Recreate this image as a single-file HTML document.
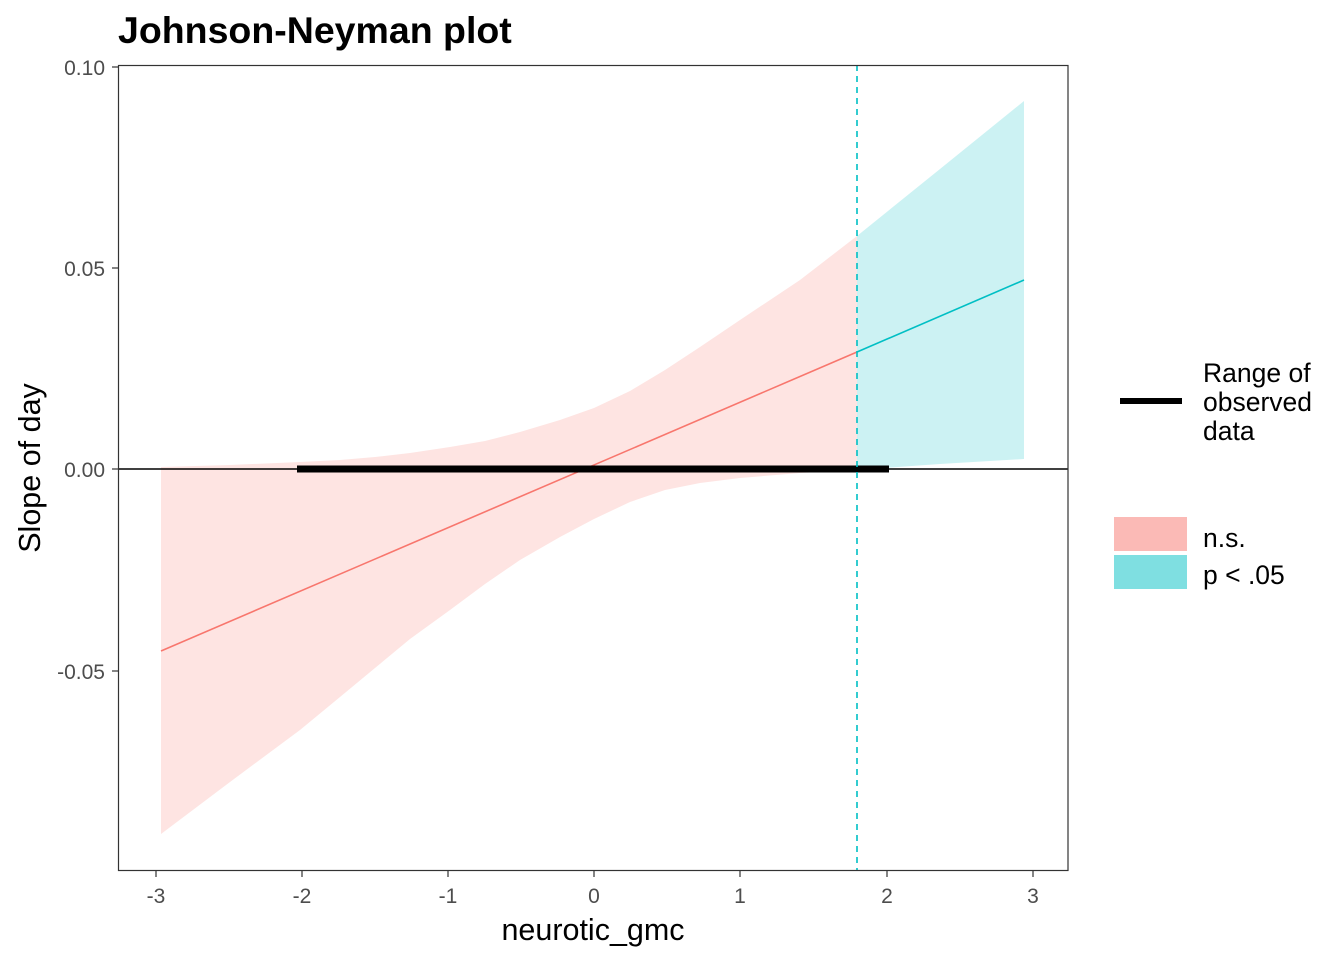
<!DOCTYPE html>
<html><head><style>body{margin:0;background:#fff}svg{display:block}</style></head><body>
<svg width="1344" height="960" xmlns="http://www.w3.org/2000/svg" font-family="Liberation Sans, sans-serif">
<rect width="1344" height="960" fill="#fff"/>
<text x="118" y="43" font-size="37.5" font-weight="bold">Johnson-Neyman plot</text>
<path d="M161,467 L230,465 L300,462 L340,460 L375,457 L410,453 L450,447 L485,441 L520,432 L560,420 L594,408 L630,391 L665,370 L700,347 L740,320 L800,280 L857,236 L857,470 L800,473 L740,478 L700,483 L665,490 L630,502 L594,519 L560,537 L520,560 L485,584 L450,610 L410,639 L375,668 L340,697 L300,730 L230,782 L161,834 Z" fill="#F8766D" fill-opacity="0.2"/>
<path d="M857,236 L940,169 L1024,101 L1024,459 L940,464 L857,470 Z" fill="#00BFC4" fill-opacity="0.2"/>
<line x1="161" y1="651" x2="857" y2="352" stroke="#F8766D" stroke-width="1.6"/>
<line x1="857" y1="352" x2="1024" y2="280" stroke="#00BFC4" stroke-width="1.6"/>
<line x1="118" y1="469" x2="1068" y2="469" stroke="#000" stroke-width="1.6"/>
<line x1="297" y1="469" x2="889" y2="469" stroke="#000" stroke-width="7"/>
<line x1="857" y1="65" x2="857" y2="870" stroke="#00BFC4" stroke-width="1.6" stroke-dasharray="6,5"/>
<rect x="118.5" y="65.5" width="949.5" height="805" fill="none" stroke="#333" stroke-width="1.2"/>
<g stroke="#333" stroke-width="1.2">
<line x1="112" y1="67" x2="118" y2="67"/><line x1="112" y1="268" x2="118" y2="268"/><line x1="112" y1="469" x2="118" y2="469"/><line x1="112" y1="671" x2="118" y2="671"/>
<line x1="156" y1="871" x2="156" y2="877"/><line x1="302" y1="871" x2="302" y2="877"/><line x1="448" y1="871" x2="448" y2="877"/><line x1="594" y1="871" x2="594" y2="877"/><line x1="740" y1="871" x2="740" y2="877"/><line x1="887" y1="871" x2="887" y2="877"/><line x1="1033" y1="871" x2="1033" y2="877"/>
</g>
<g font-size="21" fill="#4d4d4d" text-anchor="end">
<text x="105" y="75">0.10</text><text x="105" y="276">0.05</text><text x="105" y="477">0.00</text><text x="105" y="679">-0.05</text>
</g>
<g font-size="21" fill="#4d4d4d" text-anchor="middle">
<text x="156" y="903">-3</text><text x="302" y="903">-2</text><text x="448" y="903">-1</text><text x="594" y="903">0</text><text x="740" y="903">1</text><text x="887" y="903">2</text><text x="1033" y="903">3</text>
</g>
<text x="593" y="940" font-size="30.5" text-anchor="middle">neurotic_gmc</text>
<text transform="translate(40,468) rotate(-90)" font-size="30.5" text-anchor="middle">Slope of day</text>
<line x1="1120" y1="401" x2="1182" y2="401" stroke="#000" stroke-width="6"/>
<g font-size="26.5"><text x="1203" y="382">Range of</text><text x="1203" y="411">observed</text><text x="1203" y="440">data</text>
<text x="1203" y="547">n.s.</text><text x="1203" y="584">p &lt; .05</text></g>
<rect x="1114" y="517" width="73" height="34" fill="#F8766D" fill-opacity="0.5"/>
<rect x="1114" y="555" width="73" height="34" fill="#00BFC4" fill-opacity="0.5"/>
</svg>
</body></html>
